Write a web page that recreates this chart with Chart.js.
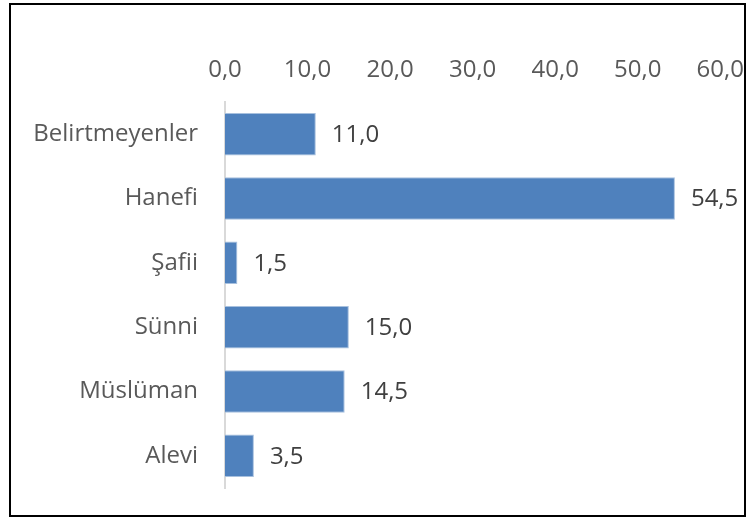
<!DOCTYPE html>
<html>
<head>
<meta charset="utf-8">
<script src="https://cdn.jsdelivr.net/npm/chart.js@4"></script>
<style>
  body { margin: 0; background: #fff; }
  #wrap { width: 753px; height: 523px; }
</style>
</head>
<body>
<div id="wrap"><canvas id="myChart" width="753" height="523"></canvas></div>
<script>
'use strict';

const categories = ['Belirtmeyenler', 'Hanefi', 'Şafii', 'Sünni', 'Müslüman', 'Alevi'];
const values = [11.0, 54.5, 1.5, 15.0, 14.5, 3.5];
const xTicks = [0, 10, 20, 30, 40, 50, 60];

const fontName = 'Open Sans';
const fontSize = 24;

function fmt(v) {
  return v.toFixed(1).replace('.', ',');
}

// frame around the whole picture
const framePlugin = {
  id: 'frame',
  afterDraw(chart) {
    const ctx = chart.ctx;
    ctx.save();
    ctx.strokeStyle = '#000';
    ctx.lineWidth = 2;
    ctx.strokeRect(10, 4, 735, 512);
    ctx.restore();
  }
};

// value labels at bar ends
const labelPlugin = {
  id: 'barLabels',
  afterDatasetsDraw(chart) {
    const ctx = chart.ctx;
    const meta = chart.getDatasetMeta(0);
    ctx.save();
    ctx.font = fontSize + 'px "' + fontName + '"';
    ctx.fillStyle = '#404040';
    ctx.textAlign = 'left';
    ctx.textBaseline = 'middle';
    meta.data.forEach(function (bar, i) {
      ctx.fillText(fmt(values[i]), bar.x + 16, bar.y + 1);
    });
    ctx.restore();
  }
};

const ctx = document.getElementById('myChart').getContext('2d');
new Chart(ctx, {
  type: 'bar',
  data: {
    labels: categories,
    datasets: [
      {
        data: values,
        backgroundColor: '#4F81BD',
        borderColor: '#A7C0DE',
        borderWidth: 1,
        categoryPercentage: 1,
        barPercentage: 0.66
      }
    ]
  },
  options: {
    indexAxis: 'y',
    responsive: false,
    animation: false,
    layout: { padding: { left: 0, right: 31, top: 0, bottom: 35 } },
    plugins: {
      legend: { display: false },
      tooltip: { enabled: false }
    },
    scales: {
      x: {
        position: 'top',
        min: 0,
        max: 60,
        afterBuildTicks(scale) {
          scale.ticks = xTicks.map(function (v) { return { value: v }; });
        },
        afterFit(scale) { scale.height = 102; },
        grid: { display: false },
        border: { display: false },
        ticks: {
          padding: 9,
          color: '#595959',
          font: { family: fontName, size: fontSize },
          callback: function (v) { return fmt(v); }
        }
      },
      y: {
        afterFit(scale) { scale.width = 225; },
        grid: { display: false },
        border: { display: true, color: '#D9D9D9', width: 2 },
        ticks: {
          padding: 19,
          color: '#595959',
          font: { family: fontName, size: fontSize }
        }
      }
    }
  },
  plugins: [framePlugin, labelPlugin]
});
</script>
</body>
</html>
